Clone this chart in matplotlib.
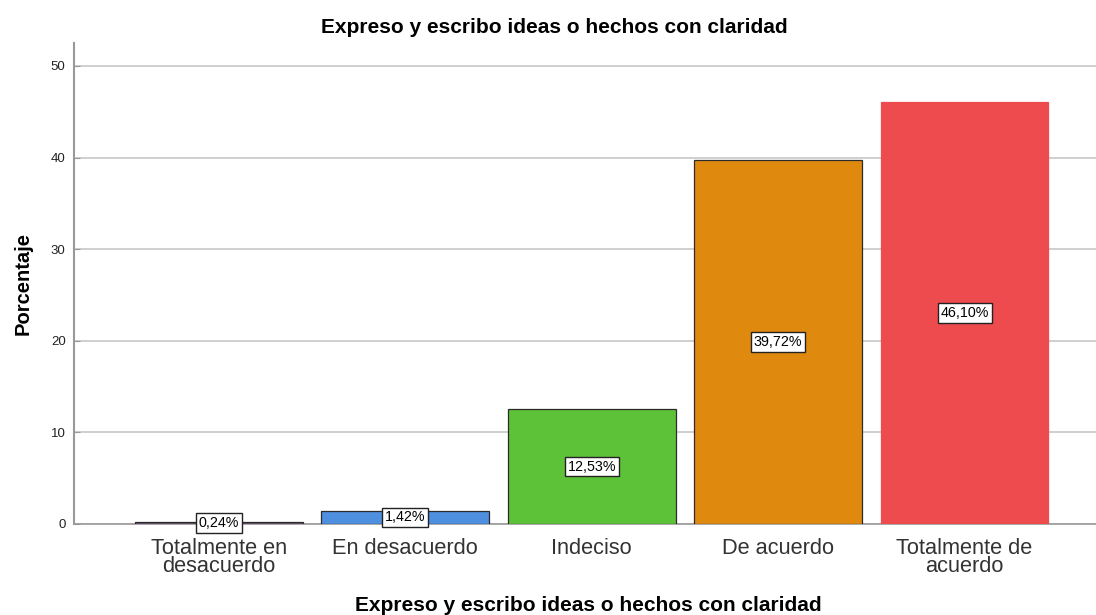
import matplotlib
matplotlib.use("Agg")
import matplotlib.pyplot as plt

plt.rcParams['font.family'] = ['Liberation Sans', 'DejaVu Sans']

categories = ["Totalmente en\ndesacuerdo", "En desacuerdo", "Indeciso", "De acuerdo", "Totalmente de\nacuerdo"]
percentages = [0.24, 1.42, 12.53, 39.72, 46.10]
bar_colors = ["#6e5379", "#4f8fdf", "#5ec239", "#e0890f", "#ed4b4e"]
edge_colors = ["#2b2b2b", "#2b2b2b", "#2b2b2b", "#2b2b2b", "#ed4b4e"]
yticks = [0, 10, 20, 30, 40, 50]
title = "Expreso y escribo ideas o hechos con claridad"

fig = plt.figure(figsize=(10.96, 6.15), dpi=100)
ax = fig.add_axes([0.0675, 0.148, 0.9325, 0.782])

x = list(range(len(categories)))
ax.bar(x, percentages, width=0.9, color=bar_colors, edgecolor=edge_colors, linewidth=0.9, zorder=3)

for xi, v in zip(x, percentages):
    label = f"{v:.2f}%".replace(".", ",")
    ax.text(xi, v / 2, label, ha="center", va="center", fontsize=10.3, zorder=5,
            bbox=dict(boxstyle="square,pad=0.2", facecolor="white", edgecolor="#222222", linewidth=1))

ax.set_xlim(-0.777, 4.705)
ax.set_ylim(0, 52.5)
ax.set_yticks(yticks)
ax.set_yticklabels([str(t) for t in yticks], fontsize=9.5, color="#222222")
ax.set_xticks(x)
ax.set_xticklabels(categories, fontsize=15.7, color="#333333", linespacing=0.82)
ax.tick_params(axis="x", length=0, pad=10)
ax.tick_params(axis="y", length=4, direction="in", color="#999999", pad=6)

ax.grid(axis="y", color="#cccccc", linewidth=1.3, zorder=0)
for side in ("top", "right"):
    ax.spines[side].set_visible(False)
ax.spines["left"].set_color("#999999")
ax.spines["left"].set_linewidth(1.5)
ax.spines["bottom"].set_color("#999999")
ax.spines["bottom"].set_linewidth(1.2)

ax.set_ylabel("Porcentaje", fontsize=14.5, fontweight="bold", labelpad=13)
fig.text(0.537, 0.016, title, ha="center", va="center", fontsize=15, fontweight="bold")
fig.text(0.506, 0.956, title, ha="center", va="center", fontsize=15, fontweight="bold")

fig.savefig("out.png", dpi=100)
